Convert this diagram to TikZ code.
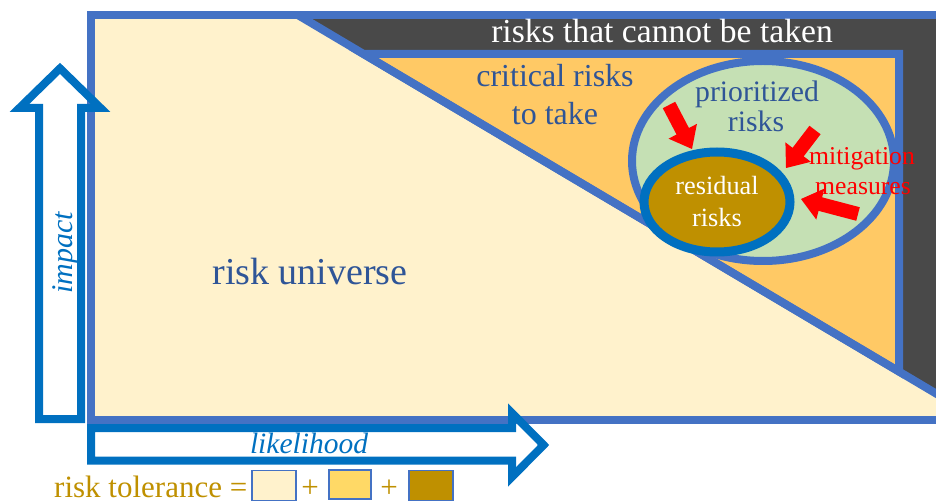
\documentclass[tikz,border=0pt]{standalone}
\usepackage{fontspec}
\setmainfont{Liberation Serif}
\usetikzlibrary{calc}
\definecolor{cream}{HTML}{FFF2CC}
\definecolor{frameblue}{HTML}{4472C4}
\definecolor{riskdark}{HTML}{494949}
\definecolor{orangefill}{HTML}{FFC965}
\definecolor{greenfill}{HTML}{C5E0B4}
\definecolor{goldfill}{HTML}{BF9000}
\definecolor{axisblue}{HTML}{0070C0}
\definecolor{textblue}{HTML}{2F5597}
\definecolor{legendyellow}{HTML}{FFD966}
\tikzset{
  region/.style={draw=frameblue, line width=8pt, line join=miter},
  lbl/.style={inner sep=0pt, anchor=base},
  axisarrow/.style={draw=axisblue, line width=8pt, line join=miter},
  legendbox/.style={draw=frameblue, line width=1.5pt, minimum width=44pt, minimum height=30pt, inner sep=0pt}
}
\newcommand{\fs}[1]{\fontsize{#1}{#1}\selectfont}
% block arrow from #1 (tail) to #2 (tip)
\newcommand{\mitarrow}[2]{%
  \coordinate (#1b) at ($(#2)!20pt!(#1)$);
  \fill[red] ($(#1)!7pt!90:(#2)$) -- ($(#1b)!7pt!-90:(#1)$) -- ($(#1b)!16pt!-90:(#1)$)
    -- (#2) -- ($(#1b)!16pt!90:(#1)$) -- ($(#1b)!7pt!90:(#1)$) -- ($(#1)!7pt!-90:(#2)$) -- cycle;}
\begin{document}
\begin{tikzpicture}[x=1pt,y=-1pt]
\useasboundingbox (0,0) rectangle (936,502);
\clip (0,0) rectangle (936,502);
% coordinates of the diagonal
\coordinate (d1) at (297.8,15);
\coordinate (d2) at (950,401.8);
% main area
\fill[cream] (91,15) rectangle (950,420);
\fill[riskdark] (d1) -- (950,15) -- (d2) -- cycle;
\filldraw[region, fill=orangefill] (363.5,54) -- (899,54) -- (899,371.5) -- cycle;
\draw[region] (d1) -- (d2);
\draw[region] (91,15) rectangle (950,420);
% ellipses
\filldraw[draw=frameblue, line width=8pt, fill=greenfill] (763,161) ellipse [x radius=131, y radius=100];
\filldraw[draw=axisblue, line width=9pt, fill=goldfill] (717,202) ellipse [x radius=73, y radius=50];
% texts
\node[lbl, text=white, font=\fs{33.6}] (cannot) at (662,43) {risks that cannot be taken};
\node[lbl, text=textblue, font=\fs{32}] (crit1) at (555,87) {critical risks};
\node[lbl, text=textblue, font=\fs{32}] (crit2) at (555,125) {to take};
\node[lbl, text=textblue, font=\fs{29.7}] (prio1) at (757,102) {prioritized};
\node[lbl, text=textblue, font=\fs{29.7}] (prio2) at (756,132) {risks};
\node[lbl, text=white, font=\fs{26.3}] (res1) at (717,195) {residual};
\node[lbl, text=white, font=\fs{26.3}] (res2) at (717,227) {risks};
\node[lbl, text=red, font=\fs{25.7}] (mit1) at (862,165) {mitigation};
\node[lbl, text=red, font=\fs{25.7}] (mit2) at (863,195) {measures};
\node[lbl, text=textblue, font=\fs{38}] (universe) at (310,285) {risk universe};
% red arrows
\coordinate (a1s) at (669,105); \coordinate (a1e) at (692,149);
\coordinate (a2s) at (815,130); \coordinate (a2e) at (786,168);
\coordinate (a3s) at (858,214); \coordinate (a3e) at (801,199);
\mitarrow{a1s}{a1e}
\mitarrow{a2s}{a2e}
\mitarrow{a3s}{a3e}
% axis arrows
\draw[axisarrow] (39,419) -- (39,108) -- (19.4,108) -- (60,68.4) -- (100.6,108) -- (81,108) -- (81,419) -- cycle;
\draw[axisarrow] (91,428) -- (512,428) -- (512,413) -- (543.6,445) -- (512,477) -- (512,460.5) -- (91,460.5) -- cycle;
\node[lbl, text=axisblue, font=\fs{29.5}\itshape] (likelihood) at (309,453) {likelihood};
\node[lbl, text=axisblue, font=\fs{30}\itshape, rotate=90] (impact) at (72,253) {impact};
% legend
\node[inner sep=0pt, anchor=base west, text=goldfill, font=\fs{31}] (tol) at (54,497) {risk tolerance =};
\node[legendbox, fill=cream] (box1) at (274,485.5) {};
\node[inner sep=0pt, anchor=base, text=goldfill, font=\fs{31}] (plus1) at (310,497) {+};
\node[legendbox, fill=legendyellow, minimum width=42pt, minimum height=29pt] (box2) at (350,484.5) {};
\node[inner sep=0pt, anchor=base, text=goldfill, font=\fs{31}] (plus2) at (389,497) {+};
\node[legendbox, fill=goldfill] (box3) at (431,485.5) {};
\end{tikzpicture}
\end{document}
